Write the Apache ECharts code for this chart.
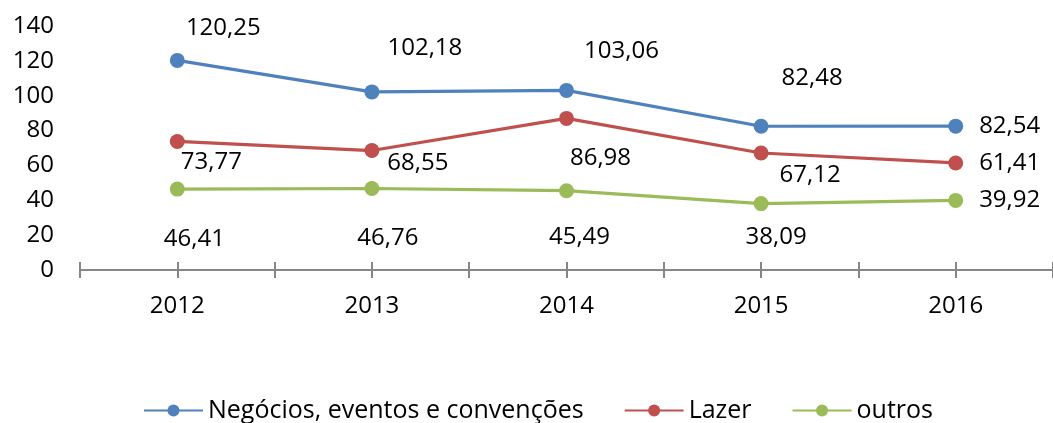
<!DOCTYPE html>
<html>
<head>
<meta charset="utf-8">
<script src="https://cdn.jsdelivr.net/npm/echarts@6/dist/echarts.min.js"></script>
<style>
html, body { margin: 0; padding: 0; background: #fff; }
#chart { width: 1053px; height: 423px; }
</style>
</head>
<body>
<div id="chart"></div>
<script>
var years = ['2012', '2013', '2014', '2015', '2016'];
var negocios = [120.25, 102.18, 103.06, 82.48, 82.54];
var lazer = [73.77, 68.55, 86.98, 67.12, 61.41];
var outros = [46.41, 46.76, 45.49, 38.09, 39.92];
var yTicks = [0, 20, 40, 60, 80, 100, 120, 140];

// where each data label sits, relative to its point (pixels)
var offsNegocios = [[46, -32], [53, -44], [55, -39], [51, -48], [54, 0]];
var offsLazer = [[34, 21], [46, 13], [34, 40], [49, 22], [54, 0]];
var offsOutros = [[17, 50], [16, 50], [13, 46], [15, 34], [54, 0]];

var FONT = 'Open Sans';
var FS = 24;

function fmt(v) {
    return v.toFixed(2).replace('.', ',');
}

function withLabels(values, offs) {
    return values.map(function(v, i) {
        return {
            value: v,
            label: {
                show: true,
                position: 'inside',
                offset: offs[i],
                formatter: function(p) { return fmt(p.value); },
                color: '#000',
                fontFamily: FONT,
                fontSize: FS
            }
        };
    });
}

function tickAxis(align, inside, showLine) {
    return {
        type: 'category',
        data: years,
        position: 'bottom',
        boundaryGap: true,
        axisLine: { show: showLine, lineStyle: { color: '#868686', width: 2 } },
        axisTick: { show: true, alignWithLabel: align, inside: inside, length: 8,
            lineStyle: { color: '#868686', width: 2 } },
        axisLabel: { show: false },
        splitLine: { show: false }
    };
}

var chart = echarts.init(document.getElementById('chart'));

var xMain = tickAxis(false, false, true);
xMain.axisLabel = { show: true, color: '#000', fontFamily: FONT, fontSize: FS, margin: 24 };

var mk = function(name, color, values, offs) {
    return {
        name: name,
        type: 'line',
        data: withLabels(values, offs),
        symbol: 'circle',
        symbolSize: 15,
        itemStyle: { color: color },
        lineStyle: { color: color, width: 3.2 },
        z: 5
    };
};

var option = {
    animation: false,
    grid: { left: 80, top: 26, width: 975, height: 244 },
    legend: {
        top: 393,
        left: 138,
        itemWidth: 59,
        itemHeight: 15,
        itemGap: 40,
        textStyle: { color: '#000', fontFamily: FONT, fontSize: 25 },
        data: ['Negócios, eventos e convenções', 'Lazer', 'outros']
    },
    xAxis: [
        xMain,
        tickAxis(false, true, false),
        tickAxis(true, false, false),
        tickAxis(true, true, false)
    ],
    yAxis: {
        type: 'value',
        min: yTicks[0],
        max: yTicks[yTicks.length - 1],
        interval: 20,
        axisLine: { show: false },
        axisTick: { show: false },
        splitLine: { show: false },
        axisLabel: { color: '#000', fontFamily: FONT, fontSize: FS, margin: 26 }
    },
    series: [
        mk('Negócios, eventos e convenções', '#4F81BD', negocios, offsNegocios),
        mk('Lazer', '#C0504D', lazer, offsLazer),
        mk('outros', '#9BBB59', outros, offsOutros)
    ]
};
chart.setOption(option);
</script>
</body>
</html>
